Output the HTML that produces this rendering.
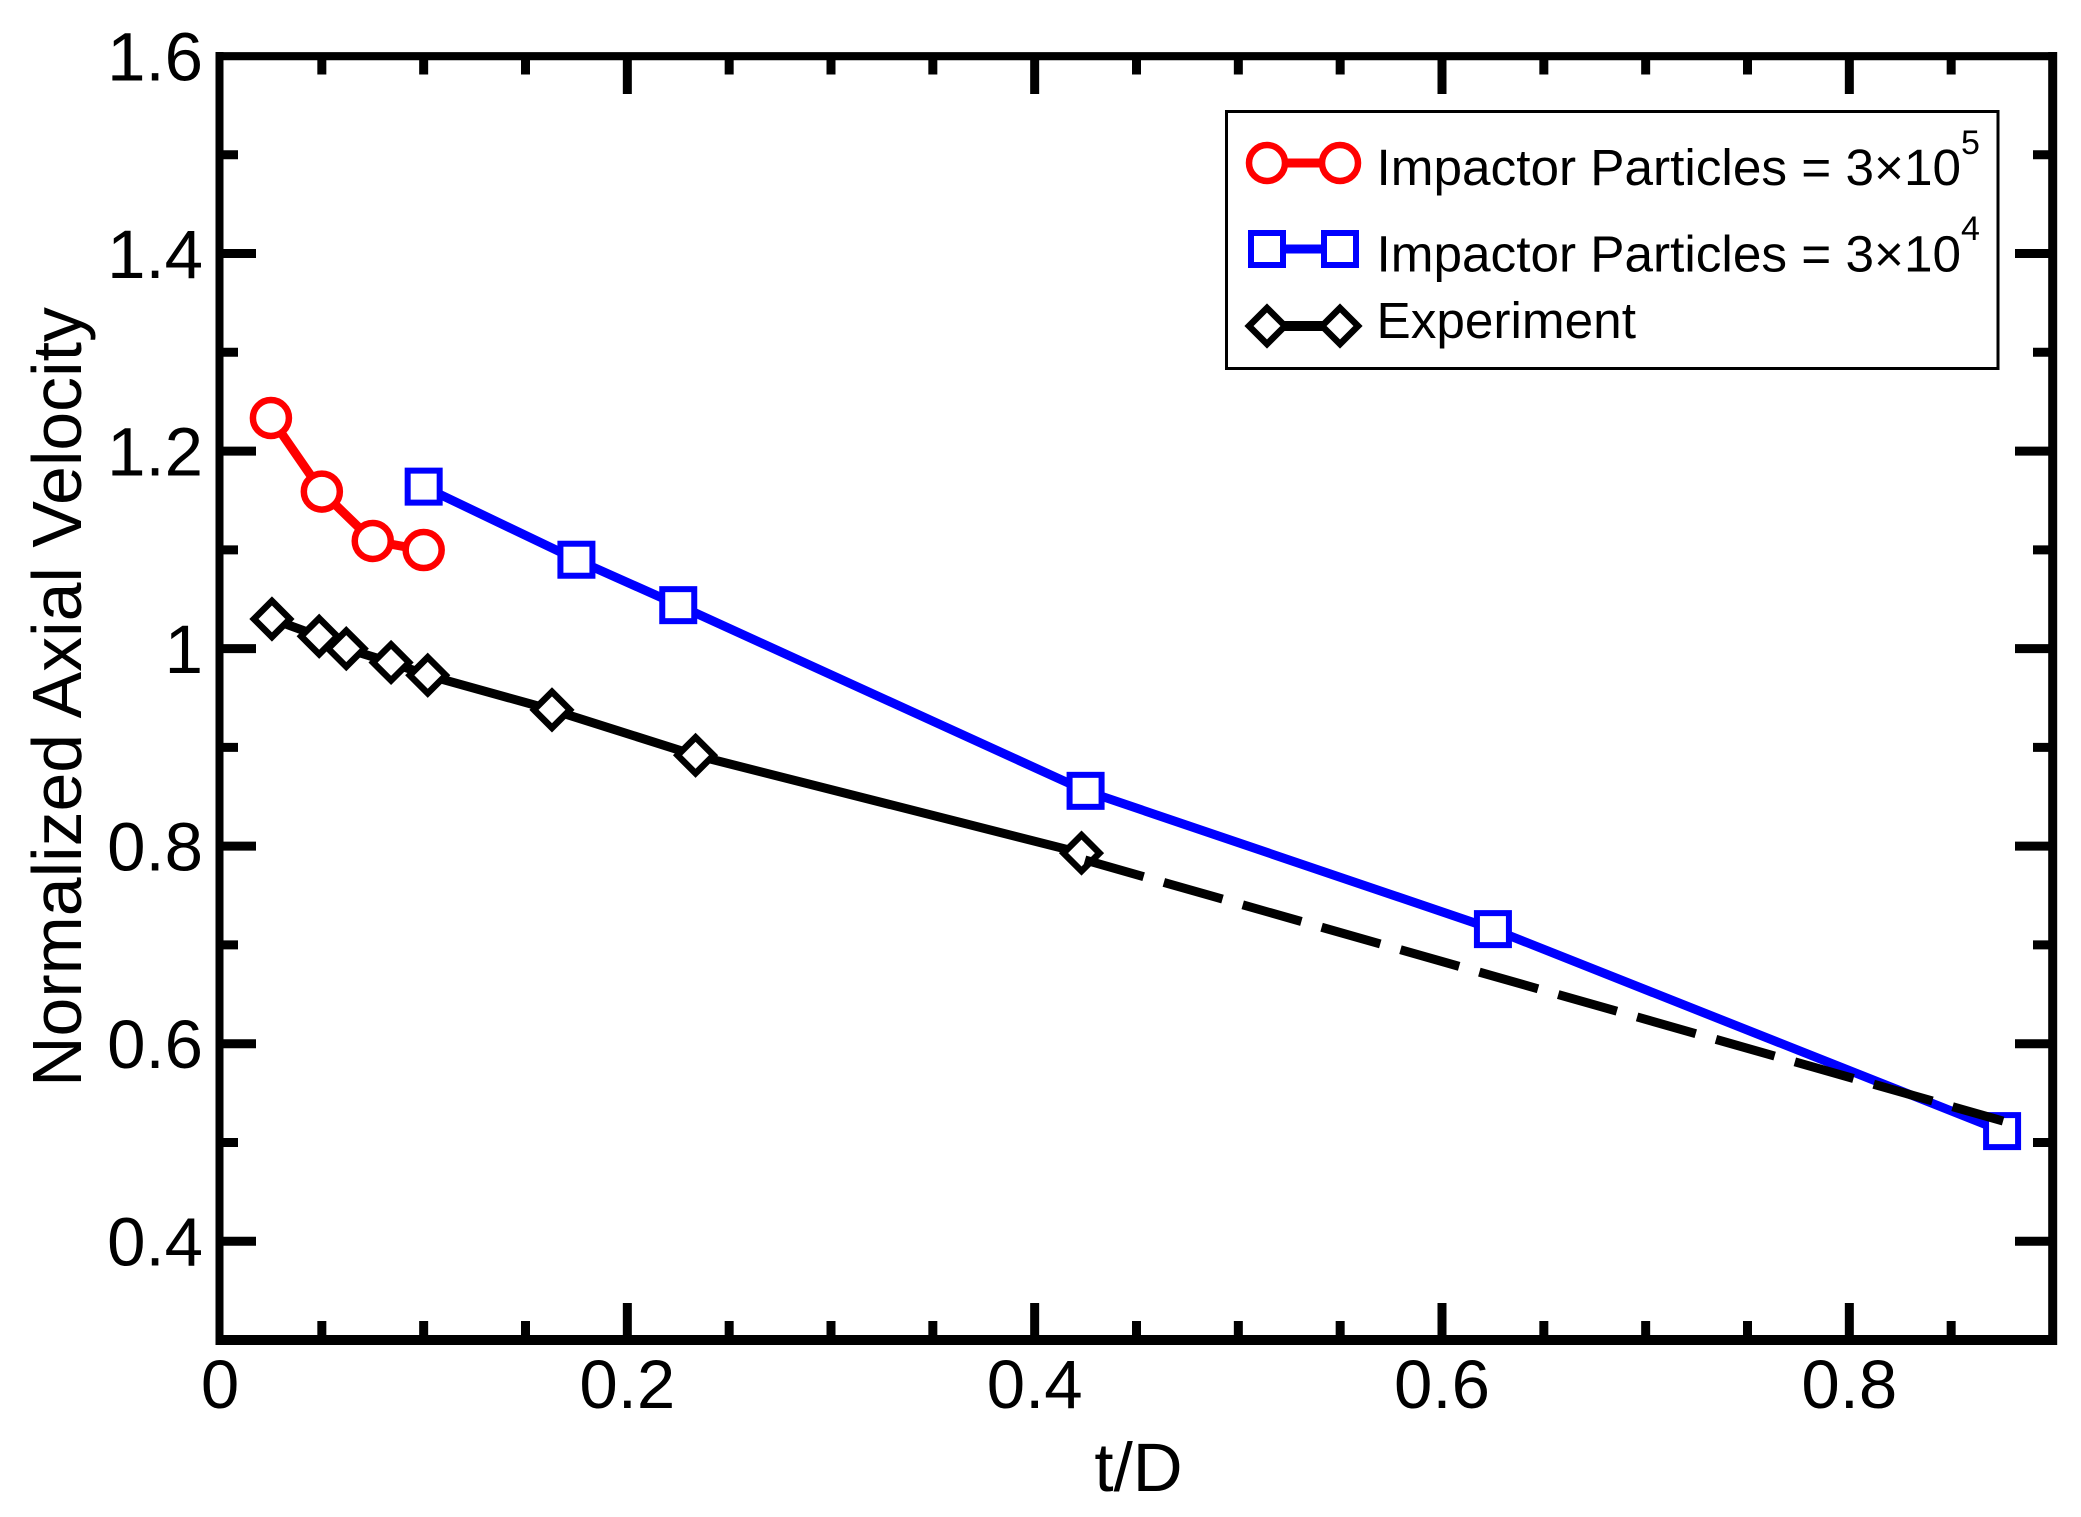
<!DOCTYPE html>
<html>
<head>
<meta charset="utf-8">
<title>Normalized Axial Velocity vs t/D</title>
<style>
html,body{margin:0;padding:0;background:#fff;}
svg{display:block;}
text{font-family:"Liberation Sans",Arial,sans-serif;fill:#000;}
</style>
</head>
<body>
<svg id="chart" xmlns="http://www.w3.org/2000/svg" width="2081" height="1517" viewBox="0 0 2081 1517">
  <rect x="0" y="0" width="2081" height="1517" fill="#fff"/>
</svg>
<script>
const xMajorTicks = [0.2, 0.4, 0.6, 0.8];
const xMinorTicks = [0.05, 0.1, 0.15, 0.25, 0.3, 0.35, 0.45, 0.5, 0.55, 0.65, 0.7, 0.75, 0.85];
const yMajorTicks = [0.4, 0.6, 0.8, 1.0, 1.2, 1.4];
const yMinorTicks = [0.5, 0.7, 0.9, 1.1, 1.3, 1.5];
const xTickLabels = ["0", "0.2", "0.4", "0.6", "0.8"];
const xTickLabelValues = [0, 0.2, 0.4, 0.6, 0.8];
const yTickLabels = ["0.4", "0.6", "0.8", "1", "1.2", "1.4", "1.6"];
const yTickLabelValues = [0.4, 0.6, 0.8, 1.0, 1.2, 1.4, 1.6];

const redX = [0.025, 0.05, 0.075, 0.1];
const redY = [1.2335, 1.159, 1.109, 1.0998];
const blueX = [0.1, 0.175, 0.225, 0.425, 0.625, 0.875];
const blueY = [1.164, 1.09, 1.044, 0.856, 0.716, 0.5115];
const expX = [0.0255, 0.0487, 0.062, 0.084, 0.102, 0.163, 0.2335, 0.423];
const expY = [1.03, 1.0125, 1.0, 0.986, 0.973, 0.938, 0.892, 0.793];
const expTrendX = [0.4247, 0.8755];
const expTrendY = [0.786, 0.5217];

const xMin = 0, xMax = 0.9, yMin = 0.3, yMax = 1.6;
const plotL = 220, plotR = 2053, plotT = 56, plotB = 1340;
const sx = v => plotL + (v - xMin) / (xMax - xMin) * (plotR - plotL);
const sy = v => plotB - (v - yMin) / (yMax - yMin) * (plotB - plotT);

const NS = "http://www.w3.org/2000/svg";
const svg = document.getElementById("chart");
function mk(tag, attrs, parent) {
  const el = document.createElementNS(NS, tag);
  for (const k in attrs) el.setAttribute(k, attrs[k]);
  (parent || svg).appendChild(el);
  return el;
}
function rectLine(x1, y1, x2, y2, w, parent) {
  return mk("line", {x1: x1, y1: y1, x2: x2, y2: y2, stroke: "#000", "stroke-width": w}, parent);
}
function circleMarker(cx, cy, parent) {
  return mk("circle", {cx: cx, cy: cy, r: 18, fill: "#fff", stroke: "#ff0000", "stroke-width": 6.5}, parent);
}
function squareMarker(cx, cy, parent) {
  return mk("rect", {x: cx - 16, y: cy - 16, width: 32, height: 32, fill: "#fff", stroke: "#0000ff", "stroke-width": 6}, parent);
}
function diamondMarker(cx, cy, parent) {
  const d = 18;
  return mk("polygon", {points: [cx, cy - d, cx + d, cy, cx, cy + d, cx - d, cy].join(" "), fill: "#fff", stroke: "#000", "stroke-width": 6.5}, parent);
}
function polyPoints(xs, ys) {
  return xs.map((x, i) => sx(x) + "," + sy(ys[i])).join(" ");
}

/* Axes frame */
const frame = mk("g", {});


const leftAxis = rectLine(219.5, 52, 219.5, 1345, 8, frame);


const rightAxis = rectLine(2052.7, 52, 2052.7, 1345, 9, frame);


const topAxis = rectLine(215.5, 56.2, 2057, 56.2, 8.2, frame);


const bottomAxis = rectLine(215.5, 1340, 2057, 1340, 10, frame);



/* Ticks */
const ticks = mk("g", {});


xMajorTicks.forEach(v => {
  const a = rectLine(sx(v), plotB, sx(v), plotB - 37, 9, ticks);
  
  
  const b = rectLine(sx(v), plotT, sx(v), plotT + 38, 9, ticks);
  
  
});
xMinorTicks.forEach(v => {
  const a = rectLine(sx(v), plotB, sx(v), plotB - 19, 9, ticks);
  
  
  const b = rectLine(sx(v), plotT, sx(v), plotT + 18.5, 9, ticks);
  
  
});
yMajorTicks.forEach(v => {
  const a = rectLine(plotL, sy(v), plotL + 36, sy(v), 9, ticks);
  
  
  const b = rectLine(plotR, sy(v), plotR - 38, sy(v), 9, ticks);
  
  
});
yMinorTicks.forEach(v => {
  const a = rectLine(plotL, sy(v), plotL + 18, sy(v), 9, ticks);
  
  
  const b = rectLine(plotR, sy(v), plotR - 20, sy(v), 9, ticks);
  
  
});

/* Tick labels */
xTickLabels.forEach((s, i) => {
  const t = mk("text", {x: sx(xTickLabelValues[i]), y: 1408, "text-anchor": "middle", "font-size": 69});
  t.textContent = s;
  
  
});
yTickLabels.forEach((s, i) => {
  const t = mk("text", {x: 203, y: sy(yTickLabelValues[i]) + 24.5, "text-anchor": "end", "font-size": 69});
  t.textContent = s;
  
  
});

/* Axis titles */
const xTitle = mk("text", {x: 1138.5, y: 1491, "text-anchor": "middle", "font-size": 69});
xTitle.textContent = "t/D";


const yTitle = mk("text", {x: 0, y: 0, "text-anchor": "middle", "font-size": 69.8, transform: "translate(81 697) rotate(-90)"});
yTitle.textContent = "Normalized Axial Velocity";



/* Series: red */
const redGroup = mk("g", {});


const redLine = mk("polyline", {points: polyPoints(redX, redY), fill: "none", stroke: "#ff0000", "stroke-width": 9}, redGroup);


redX.forEach((x, i) => {
  const m = circleMarker(sx(x), sy(redY[i]), redGroup);
  
  
});

/* Series: blue */
const blueGroup = mk("g", {});


const blueLine = mk("polyline", {points: polyPoints(blueX, blueY), fill: "none", stroke: "#0000ff", "stroke-width": 9}, blueGroup);


blueX.forEach((x, i) => {
  const m = squareMarker(sx(x), sy(blueY[i]), blueGroup);
  
  
});

/* Series: experiment */
const expGroup = mk("g", {});


const expLine = mk("polyline", {points: polyPoints(expX, expY), fill: "none", stroke: "#000", "stroke-width": 9}, expGroup);


expX.forEach((x, i) => {
  const m = diamondMarker(sx(x), sy(expY[i]), expGroup);
  
  
});
const trendLine = mk("polyline", {points: polyPoints(expTrendX, expTrendY), fill: "none", stroke: "#000", "stroke-width": 9, "stroke-dasharray": "61 21"}, expGroup);



/* Legend */
const legend = mk("g", {});


const legendBox = mk("rect", {x: 1226.5, y: 111.5, width: 771.5, height: 257, fill: "#fff", stroke: "#000", "stroke-width": 3}, legend);



const lgRedLine = mk("line", {x1: 1267, y1: 163, x2: 1340, y2: 163, stroke: "#ff0000", "stroke-width": 9}, legend);


[1267, 1340].forEach(x => {
  const m = circleMarker(x, 163, legend);
  
  
});
const lgBlueLine = mk("line", {x1: 1267, y1: 249, x2: 1340, y2: 249, stroke: "#0000ff", "stroke-width": 9}, legend);


[1267, 1340].forEach(x => {
  const m = squareMarker(x, 249, legend);
  
  
});
const lgBlackLine = mk("line", {x1: 1267, y1: 326, x2: 1340, y2: 326, stroke: "#000", "stroke-width": 10}, legend);


[1267, 1340].forEach(x => {
  const m = diamondMarker(x, 326, legend);
  
  
});

const lg1 = mk("text", {x: 1376.5, y: 185, "font-size": 51.3}, legend);
lg1.textContent = "Impactor Particles = 3×10";


const sup1 = mk("text", {x: 1961, y: 154, "font-size": 34}, legend);
sup1.textContent = "5";


const lg2 = mk("text", {x: 1376.5, y: 271.5, "font-size": 51.3}, legend);
lg2.textContent = "Impactor Particles = 3×10";


const sup2 = mk("text", {x: 1961, y: 240, "font-size": 34}, legend);
sup2.textContent = "4";


const lg3 = mk("text", {x: 1376.5, y: 338, "font-size": 51.3}, legend);
lg3.textContent = "Experiment";


</script>
</body>
</html>
